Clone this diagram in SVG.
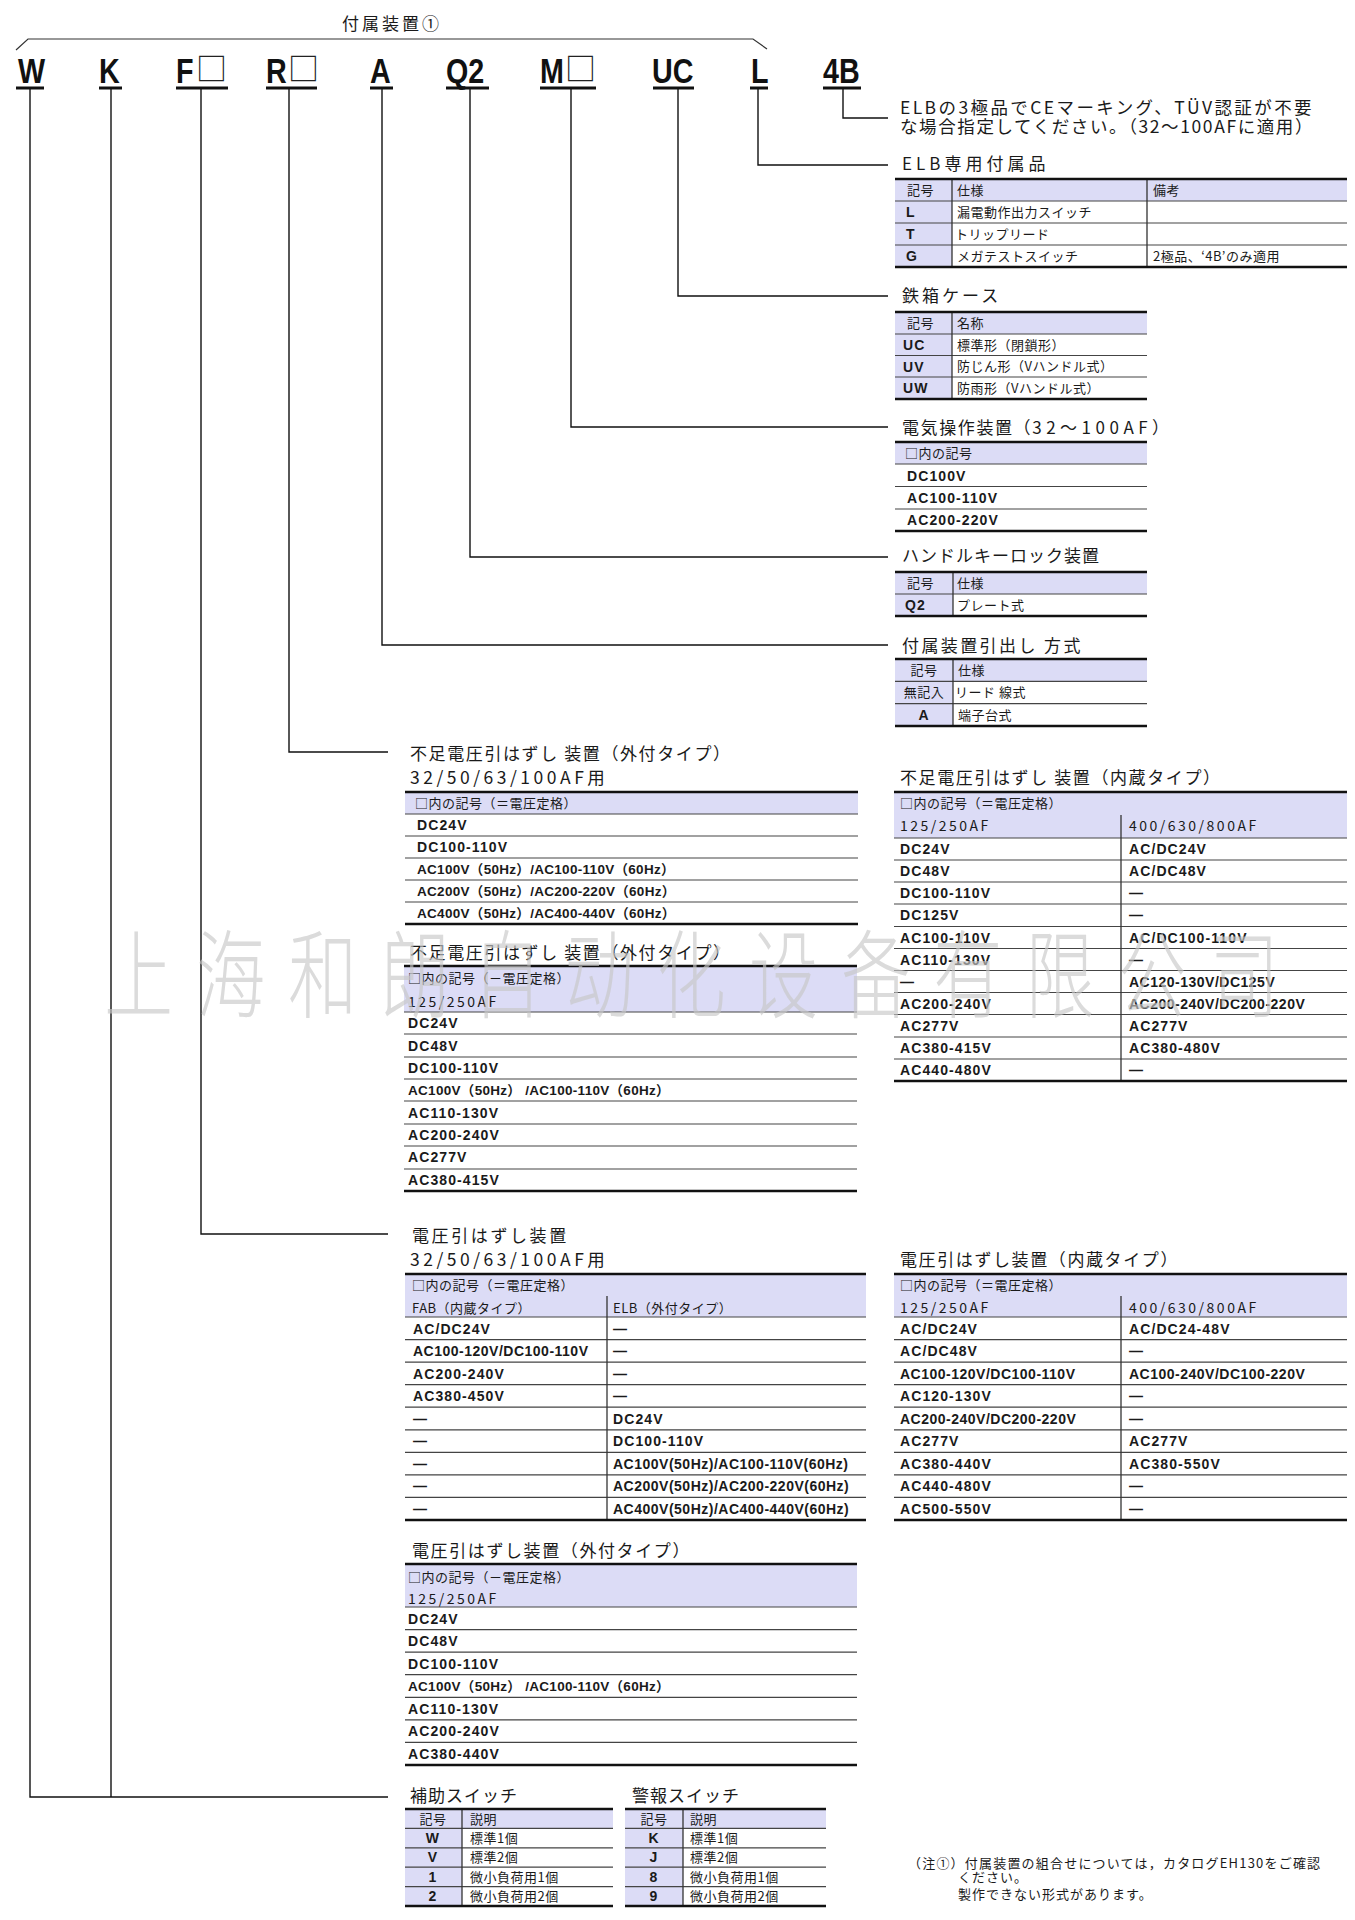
<svg xmlns="http://www.w3.org/2000/svg" width="1355" height="1920" viewBox="0 0 1355 1920">
<defs>
<style>
.ti{font-family:"Noto Sans CJK JP",sans-serif;font-size:17px;fill:#1a1a1a;letter-spacing:1.6px}
.tn{font-family:"Noto Sans CJK JP",sans-serif;font-size:17.5px;fill:#1a1a1a;letter-spacing:3.5px}
.j{font-family:"Noto Sans CJK JP",sans-serif;font-size:13px;fill:#1a1a1a;letter-spacing:0.5px}
.n{font-family:"Noto Sans CJK JP",sans-serif;font-size:14px;fill:#1a1a1a;letter-spacing:2.5px}
.b{font-family:"Liberation Sans","Noto Sans CJK JP",sans-serif;font-size:14px;font-weight:700;fill:#1a1a1a;letter-spacing:1.1px}
.bm{font-family:"Liberation Sans","Noto Sans CJK JP",sans-serif;font-size:14px;font-weight:700;fill:#1a1a1a;letter-spacing:0.5px}
.bp{font-family:"Liberation Sans","Noto Sans CJK JP",sans-serif;font-size:13.5px;font-weight:700;fill:#1a1a1a;letter-spacing:0.3px}
.c{text-anchor:middle}
.hf{fill:#dcdcf6}
.tk{stroke:#111;stroke-width:2.6;fill:none}
.sp{stroke:#444;stroke-width:1.2;fill:none}
.vs{stroke:#333;stroke-width:1.3;fill:none}
.cn{stroke:#111;stroke-width:1.4;fill:none}
.ul{stroke:#111;stroke-width:3;fill:none}
.big{font-family:"Liberation Sans",sans-serif;font-weight:700;font-size:35px;fill:#111}
.sq{font-family:"Noto Sans CJK JP",sans-serif;font-size:31px;fill:#222}
.wm{font-family:"Noto Sans CJK SC",sans-serif;font-size:96px;font-weight:300;fill:#c8c8c8;opacity:0.65;letter-spacing:32px}
</style>
</defs>
<rect x="0" y="0" width="1355" height="1920" fill="#fff"/>

<g id="bracket">
<path d="M16 50L28 39H753L767 49" stroke="#333" stroke-width="1.2" fill="none"/>
<text class="ti c" x="392" y="30" style="letter-spacing:3px">付属装置①</text>
</g>

<g id="code-W"><text class="big" transform="translate(18,83) scale(0.82,1)">W</text><path class="ul" d="M16 88H44"/></g>
<g id="code-K"><text class="big" transform="translate(99,83) scale(0.82,1)">K</text><path class="ul" d="M99 88H122"/></g>
<g id="code-F"><text class="big" transform="translate(176,83) scale(0.82,1)">F</text><text class="sq" x="196" y="80">□</text><path class="ul" d="M176 88H228"/></g>
<g id="code-R"><text class="big" transform="translate(266,83) scale(0.82,1)">R</text><text class="sq" x="288" y="80">□</text><path class="ul" d="M266 88H317"/></g>
<g id="code-A"><text class="big" transform="translate(370,83) scale(0.82,1)">A</text><path class="ul" d="M370 88H393"/></g>
<g id="code-Q2"><text class="big" transform="translate(446,83) scale(0.82,1)">Q2</text><path class="ul" d="M446 88H489"/></g>
<g id="code-M"><text class="big" transform="translate(540,83) scale(0.82,1)">M</text><text class="sq" x="565" y="80">□</text><path class="ul" d="M540 88H596"/></g>
<g id="code-UC"><text class="big" transform="translate(652,83) scale(0.82,1)">UC</text><path class="ul" d="M653 88H694"/></g>
<g id="code-L"><text class="big" transform="translate(751,83) scale(0.82,1)">L</text><path class="ul" d="M750 88H768"/></g>
<g id="code-4B"><text class="big" transform="translate(823,83) scale(0.82,1)">4B</text><path class="ul" d="M823 88H861"/></g>

<g id="connectors">
<path class="cn" d="M30 88V1797H388"/>
<path class="cn" d="M111 88V1797"/>
<path class="cn" d="M201 88V1234H388"/>
<path class="cn" d="M289 88V752H388"/>
<path class="cn" d="M382 88V645H888"/>
<path class="cn" d="M470 88V557H888"/>
<path class="cn" d="M571 88V427H888"/>
<path class="cn" d="M678 88V296H888"/>
<path class="cn" d="M758 88V165H888"/>
<path class="cn" d="M843 88V118H888"/>
</g>

<g id="note-4B">
<text class="ti" x="900" y="113.5" style="font-size:17.5px;letter-spacing:2.4px">ELBの3極品でCEマーキング、TÜV認証が不要</text>
<text class="ti" x="900" y="132.5" style="font-size:17.5px;letter-spacing:1.6px">な場合指定してください。（32～100AFに適用）</text>
</g>

<g id="tbl-elb">
<text class="ti" x="902" y="170" style="letter-spacing:4px">ELB専用付属品</text>
<rect class="hf" x="895" y="179" width="452" height="22"/>
<rect class="hf" x="895" y="201" width="57" height="66"/>
<path class="sp" d="M895 201H1347M895 223H1347M895 245H1347"/>
<path class="vs" d="M952 179V267M1147 179V267"/>
<path class="tk" d="M895 179H1347M895 267H1347"/>
<text class="j" x="907" y="194.5">記号</text>
<text class="j" x="957" y="194.5">仕様</text>
<text class="j" x="1153" y="194.5">備考</text>
<text class="b" x="906" y="217">L</text>
<text class="j" x="957" y="216.5">漏電動作出力スイッチ</text>
<text class="b" x="906" y="239">T</text>
<text class="j" x="955" y="238.5">トリップリード</text>
<text class="b" x="906" y="261">G</text>
<text class="j" x="957" y="260.5">メガテストスイッチ</text>
<text class="j" x="1153" y="260.5">2極品、‘4B’のみ適用</text>
</g>

<g id="tbl-case">
<text class="ti" x="902" y="302" style="letter-spacing:3px">鉄箱ケース</text>
<rect class="hf" x="895" y="312" width="252" height="22"/>
<rect class="hf" x="895" y="334" width="57" height="65"/>
<path class="sp" d="M895 334H1147M895 355.5H1147M895 377H1147"/>
<path class="vs" d="M952 312V399"/>
<path class="tk" d="M895 312H1147M895 399H1147"/>
<text class="j" x="907" y="327.5">記号</text>
<text class="j" x="957" y="327.5">名称</text>
<text class="b" x="903" y="350">UC</text>
<text class="j" x="957" y="349.5">標準形（閉鎖形）</text>
<text class="b" x="903" y="371.5">UV</text>
<text class="j" x="957" y="371">防じん形（Vハンドル式）</text>
<text class="b" x="903" y="393">UW</text>
<text class="j" x="957" y="392.5">防雨形（Vハンドル式）</text>
</g>

<g id="tbl-motor">
<text class="ti" x="902" y="434">電気操作装置（<tspan style="letter-spacing:4.5px">32～100AF</tspan>）</text>
<rect class="hf" x="895" y="442" width="252" height="22"/>
<path class="sp" d="M895 464H1147M895 486.5H1147M895 509H1147"/>
<path class="tk" d="M895 442H1147M895 531H1147"/>
<text class="j" x="905" y="457.5">□内の記号</text>
<text class="b" x="907" y="480.5">DC100V</text>
<text class="b" x="907" y="503">AC100-110V</text>
<text class="b" x="907" y="525">AC200-220V</text>
</g>

<g id="tbl-lock">
<text class="ti" x="902" y="562" style="letter-spacing:1px">ハンドルキーロック装置</text>
<rect class="hf" x="895" y="572" width="252" height="22"/>
<rect class="hf" x="895" y="594" width="58" height="22"/>
<path class="sp" d="M895 594H1147"/>
<path class="vs" d="M953 572V616"/>
<path class="tk" d="M895 572H1147M895 616H1147"/>
<text class="j" x="907" y="587.5">記号</text>
<text class="j" x="957" y="587.5">仕様</text>
<text class="b" x="905" y="610">Q2</text>
<text class="j" x="957" y="609.5">プレート式</text>
</g>

<g id="tbl-lead">
<text class="ti" x="902" y="652" style="letter-spacing:2.4px">付属装置引出し 方式</text>
<rect class="hf" x="895" y="659" width="252" height="22"/>
<rect class="hf" x="895" y="681" width="58" height="45"/>
<path class="sp" d="M895 681.3H1147M895 703.7H1147"/>
<path class="vs" d="M953 659V726"/>
<path class="tk" d="M895 659H1147M895 726H1147"/>
<text class="j c" x="924" y="674.5">記号</text>
<text class="j" x="958" y="674.5">仕様</text>
<text class="j c" x="924" y="697">無記入</text>
<text class="j" x="955" y="697">リード 線式</text>
<text class="b c" x="924" y="719.5">A</text>
<text class="j" x="958" y="719.5">端子台式</text>
</g>

<g id="tbl-uvt-ext-32">
<text class="ti" x="410" y="760">不足電圧引はずし 装置（外付タイプ）</text>
<text class="tn" x="410" y="784">32/50/63/100AF用</text>
<rect class="hf" x="405" y="792" width="453" height="22"/>
<path class="sp" d="M405 814H858M405 836H858M405 858H858M405 880H858M405 902H858"/>
<path class="tk" d="M405 792H858M405 924H858"/>
<text class="j" x="415" y="807.5">□内の記号（＝電圧定格）</text>
<text class="b" x="417" y="830">DC24V</text>
<text class="b" x="417" y="852">DC100-110V</text>
<text class="bp" x="417" y="874">AC100V（50Hz）/AC100-110V（60Hz）</text>
<text class="bp" x="417" y="896">AC200V（50Hz）/AC200-220V（60Hz）</text>
<text class="bp" x="417" y="918">AC400V（50Hz）/AC400-440V（60Hz）</text>
</g>

<g id="tbl-uvt-ext-125">
<text class="ti" x="410" y="959">不足電圧引はずし 装置（外付タイプ）</text>
<rect class="hf" x="404" y="966" width="453" height="46"/>
<path class="sp" d="M404 1012H857M404 1034H857M404 1057H857M404 1079H857M404 1101H857M404 1124H857M404 1146H857M404 1169H857"/>
<path class="tk" d="M404 966H857M404 1191H857"/>
<text class="j" x="408" y="982.5">□内の記号（－電圧定格）</text>
<text class="n" x="408" y="1006.5">125/250AF</text>
<text class="b" x="408" y="1028">DC24V</text>
<text class="b" x="408" y="1051">DC48V</text>
<text class="b" x="408" y="1073">DC100-110V</text>
<text class="bp" x="408" y="1095">AC100V（50Hz） /AC100-110V（60Hz）</text>
<text class="b" x="408" y="1118">AC110-130V</text>
<text class="b" x="408" y="1140">AC200-240V</text>
<text class="b" x="408" y="1162">AC277V</text>
<text class="b" x="408" y="1185">AC380-415V</text>
</g>

<g id="tbl-uvt-int">
<text class="ti" x="900" y="784">不足電圧引はずし 装置（内蔵タイプ）</text>
<rect class="hf" x="894" y="792" width="453" height="46"/>
<path class="sp" d="M894 838H1347M894 860H1347M894 882H1347M894 904H1347M894 926.5H1347M894 948.5H1347M894 970.5H1347M894 992.5H1347M894 1014.5H1347M894 1037H1347M894 1059H1347"/>
<path class="vs" d="M1121 815V1081"/>
<path class="tk" d="M894 792H1347M894 1081H1347"/>
<text class="j" x="900" y="807.5">□内の記号（＝電圧定格）</text>
<text class="n" x="900" y="831">125/250AF</text>
<text class="n" x="1129" y="831">400/630/800AF</text>
<text class="b" x="900" y="854">DC24V</text><text class="b" x="1129" y="854">AC/DC24V</text>
<text class="b" x="900" y="876">DC48V</text><text class="b" x="1129" y="876">AC/DC48V</text>
<text class="b" x="900" y="898">DC100-110V</text><text class="b" x="1129" y="898">—</text>
<text class="b" x="900" y="920">DC125V</text><text class="b" x="1129" y="920">—</text>
<text class="b" x="900" y="942.5">AC100-110V</text><text class="b" x="1129" y="942.5">AC/DC100-110V</text>
<text class="b" x="900" y="964.5">AC110-130V</text><text class="b" x="1129" y="964.5">—</text>
<text class="b" x="900" y="986.5">—</text><text class="bm" x="1129" y="986.5">AC120-130V/DC125V</text>
<text class="b" x="900" y="1008.5">AC200-240V</text><text class="bm" x="1129" y="1008.5">AC200-240V/DC200-220V</text>
<text class="b" x="900" y="1030.5">AC277V</text><text class="b" x="1129" y="1030.5">AC277V</text>
<text class="b" x="900" y="1053">AC380-415V</text><text class="b" x="1129" y="1053">AC380-480V</text>
<text class="b" x="900" y="1075">AC440-480V</text><text class="b" x="1129" y="1075">—</text>
</g>

<g id="tbl-st-32">
<text class="ti" x="412" y="1242" style="letter-spacing:2.6px">電圧引はずし装置</text>
<text class="tn" x="410" y="1266">32/50/63/100AF用</text>
<rect class="hf" x="405" y="1274" width="461" height="43"/>
<path class="sp" d="M405 1317H866M405 1339.6H866M405 1362.1H866M405 1384.7H866M405 1407.2H866M405 1429.8H866M405 1452.3H866M405 1474.9H866M405 1497.4H866"/>
<path class="vs" d="M607 1296V1520"/>
<path class="tk" d="M405 1274H866M405 1520H866"/>
<text class="j" x="412" y="1290">□内の記号（＝電圧定格）</text>
<text class="j" x="412" y="1312.5">FAB（内蔵タイプ）</text>
<text class="j" x="613" y="1312.5">ELB（外付タイプ）</text>
<text class="b" x="413" y="1333.5">AC/DC24V</text><text class="b" x="613" y="1333.5">—</text>
<text class="bm" x="413" y="1356">AC100-120V/DC100-110V</text><text class="b" x="613" y="1356">—</text>
<text class="b" x="413" y="1378.5">AC200-240V</text><text class="b" x="613" y="1378.5">—</text>
<text class="b" x="413" y="1401">AC380-450V</text><text class="b" x="613" y="1401">—</text>
<text class="b" x="413" y="1423.5">—</text><text class="b" x="613" y="1423.5">DC24V</text>
<text class="b" x="413" y="1446">—</text><text class="b" x="613" y="1446">DC100-110V</text>
<text class="b" x="413" y="1468.5">—</text><text class="bm" x="613" y="1468.5">AC100V(50Hz)/AC100-110V(60Hz)</text>
<text class="b" x="413" y="1491">—</text><text class="bm" x="613" y="1491">AC200V(50Hz)/AC200-220V(60Hz)</text>
<text class="b" x="413" y="1513.5">—</text><text class="bm" x="613" y="1513.5">AC400V(50Hz)/AC400-440V(60Hz)</text>
</g>

<g id="tbl-st-int">
<text class="ti" x="900" y="1266">電圧引はずし装置（内蔵タイプ）</text>
<rect class="hf" x="894" y="1274" width="453" height="43"/>
<path class="sp" d="M894 1317H1347M894 1339.6H1347M894 1362.1H1347M894 1384.7H1347M894 1407.2H1347M894 1429.8H1347M894 1452.3H1347M894 1474.9H1347M894 1497.4H1347"/>
<path class="vs" d="M1121 1296V1520"/>
<path class="tk" d="M894 1274H1347M894 1520H1347"/>
<text class="j" x="900" y="1290">□内の記号（＝電圧定格）</text>
<text class="n" x="900" y="1313">125/250AF</text>
<text class="n" x="1129" y="1313">400/630/800AF</text>
<text class="b" x="900" y="1333.5">AC/DC24V</text><text class="b" x="1129" y="1333.5">AC/DC24-48V</text>
<text class="b" x="900" y="1356">AC/DC48V</text><text class="b" x="1129" y="1356">—</text>
<text class="bm" x="900" y="1378.5">AC100-120V/DC100-110V</text><text class="bm" x="1129" y="1378.5">AC100-240V/DC100-220V</text>
<text class="b" x="900" y="1401">AC120-130V</text><text class="b" x="1129" y="1401">—</text>
<text class="bm" x="900" y="1423.5">AC200-240V/DC200-220V</text><text class="b" x="1129" y="1423.5">—</text>
<text class="b" x="900" y="1446">AC277V</text><text class="b" x="1129" y="1446">AC277V</text>
<text class="b" x="900" y="1468.5">AC380-440V</text><text class="b" x="1129" y="1468.5">AC380-550V</text>
<text class="b" x="900" y="1491">AC440-480V</text><text class="b" x="1129" y="1491">—</text>
<text class="b" x="900" y="1513.5">AC500-550V</text><text class="b" x="1129" y="1513.5">—</text>
</g>

<g id="tbl-st-ext">
<text class="ti" x="412" y="1557">電圧引はずし装置（外付タイプ）</text>
<rect class="hf" x="405" y="1564" width="452" height="43"/>
<path class="sp" d="M405 1607H857M405 1629.6H857M405 1652.1H857M405 1674.7H857M405 1697.3H857M405 1719.9H857M405 1742.4H857"/>
<path class="tk" d="M405 1564H857M405 1765H857"/>
<text class="j" x="408" y="1581.5">□内の記号（－電圧定格）</text>
<text class="n" x="408" y="1603.5">125/250AF</text>
<text class="b" x="408" y="1623.5">DC24V</text>
<text class="b" x="408" y="1646">DC48V</text>
<text class="b" x="408" y="1668.5">DC100-110V</text>
<text class="bp" x="408" y="1691">AC100V（50Hz） /AC100-110V（60Hz）</text>
<text class="b" x="408" y="1713.5">AC110-130V</text>
<text class="b" x="408" y="1736">AC200-240V</text>
<text class="b" x="408" y="1758.5">AC380-440V</text>
</g>

<g id="tbl-aux">
<text class="ti" x="410" y="1802" style="letter-spacing:1px">補助スイッチ</text>
<rect class="hf" x="405" y="1809" width="208" height="19.4"/>
<rect class="hf" x="405" y="1828.4" width="57" height="77.6"/>
<path class="sp" d="M405 1828.4H613M405 1847.8H613M405 1867.2H613M405 1886.6H613"/>
<path class="vs" d="M462 1809V1906"/>
<path class="tk" d="M405 1809H613M405 1906H613"/>
<text class="j c" x="433" y="1823.5">記号</text><text class="j" x="470" y="1823.5">説明</text>
<text class="b c" x="433" y="1843">W</text><text class="j" x="470" y="1842.8">標準1個</text>
<text class="b c" x="433" y="1862.4">V</text><text class="j" x="470" y="1862.2">標準2個</text>
<text class="b c" x="433" y="1881.8">1</text><text class="j" x="470" y="1881.6">微小負荷用1個</text>
<text class="b c" x="433" y="1901.2">2</text><text class="j" x="470" y="1901">微小負荷用2個</text>
</g>

<g id="tbl-alarm">
<text class="ti" x="632" y="1802" style="letter-spacing:1px">警報スイッチ</text>
<rect class="hf" x="625" y="1809" width="201" height="19.4"/>
<rect class="hf" x="625" y="1828.4" width="58" height="77.6"/>
<path class="sp" d="M625 1828.4H826M625 1847.8H826M625 1867.2H826M625 1886.6H826"/>
<path class="vs" d="M683 1809V1906"/>
<path class="tk" d="M625 1809H826M625 1906H826"/>
<text class="j c" x="654" y="1823.5">記号</text><text class="j" x="690" y="1823.5">説明</text>
<text class="b c" x="654" y="1843">K</text><text class="j" x="690" y="1842.8">標準1個</text>
<text class="b c" x="654" y="1862.4">J</text><text class="j" x="690" y="1862.2">標準2個</text>
<text class="b c" x="654" y="1881.8">8</text><text class="j" x="690" y="1881.6">微小負荷用1個</text>
<text class="b c" x="654" y="1901.2">9</text><text class="j" x="690" y="1901">微小負荷用2個</text>
</g>

<g id="footnote">
<text class="j" x="908" y="1867.5" style="letter-spacing:1.2px">（注①）付属装置の組合せについては，カタログEH130をご確認</text>
<text class="j" x="958" y="1881.5" style="letter-spacing:1px">ください。</text>
<text class="j" x="958" y="1898.5" style="letter-spacing:1px">製作できない形式があります。</text>
</g>

<g id="watermark">
<text class="wm" transform="translate(104,1010) scale(0.72,1)">上海和朗自动化设备有限公司</text>
</g>
</svg>
